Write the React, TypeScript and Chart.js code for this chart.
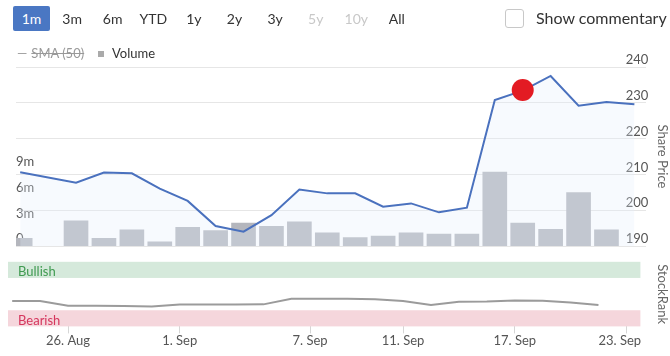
import React, { useEffect, useRef } from 'react';
import { Chart, registerables } from 'chart.js';

Chart.register(...registerables);
Chart.defaults.font.family = 'Lato';

// trading-session index (26 Aug = 0)
const sessions = [-2, -1, 0, 1, 2, 3, 4, 5, 6, 7, 8, 9, 10, 11, 12, 13, 14, 15, 16, 17, 18, 19, 20];
const sharePrice = [210.6, null, 207.7, 210.5, 210.3, 206.0, 202.6, 195.6, 194.0, 198.6, 205.8, 204.7, 204.7, 201.0, 201.9, 199.4, 200.7, 230.8, 233.4, 237.5, 229.2, 230.2, 229.6];
const volumeM = [0.9, null, 2.95, 0.9, 1.9, 0.5, 2.2, 1.8, 2.7, 2.3, 2.85, 1.55, 1.0, 1.15, 1.55, 1.4, 1.4, 8.67, 2.7, 1.95, 6.27, 1.9, null];
const stockRank = [39.4, 39.4, 31.8, 31.8, 31.4, 30.8, 33.8, 33.8, 33.8, 34.1, 42.9, 42.9, 42.7, 42.0, 39.4, 33.3, 38.3, 38.6, 40.2, 39.8, 37.1, 33.3, null];

const newsSession = 16;
const newsPrice = 233.6;

const priceTicks = [190, 200, 210, 220, 230, 240];
const volumeTicks = [0, 3, 6, 9];
const rankTicks = [0];

const tickSessions = [0, 4, 8.67, 12, 16, 20];
const tickLabels = ['26. Aug', '1. Sep', '7. Sep', '11. Sep', '17. Sep', '23. Sep'];

const rangeButtons = ['1m', '3m', '6m', 'YTD', '1y', '2y', '3y', '5y', '10y', 'All'];
const disabledButtons = ['5y', '10y'];
const activeButton = '1m';

const rankBands = [
  { from: 75, to: 100, label: 'Bullish', color: '#d5e9db', text: '#3f9a50' },
  { from: 0, to: 25, label: 'Bearish', color: '#f5d6dc', text: '#d5365d' },
];

const X_MIN = -2.15;
const X_MAX = 20.43;

const bandsPlugin = {
  id: 'rankBands',
  beforeDatasetsDraw(chart: any) {
    const { ctx, chartArea } = chart;
    const y = chart.scales.rank;
    ctx.save();
    rankBands.forEach((b) => {
      const top = y.getPixelForValue(b.to);
      const bottom = y.getPixelForValue(b.from);
      ctx.fillStyle = b.color;
      ctx.fillRect(chartArea.left, top, chartArea.right - chartArea.left + 2, bottom - top);
      ctx.fillStyle = b.text;
      ctx.font = '13px Lato';
      ctx.textBaseline = 'alphabetic';
      ctx.textAlign = 'left';
      ctx.fillText(b.label, chartArea.left + 10, top + 14.5);
    });
    ctx.restore();
  },
};

export default function App() {
  const mainRef = useRef<HTMLCanvasElement>(null);
  const rankRef = useRef<HTMLCanvasElement>(null);

  useEffect(() => {
    document.body.style.margin = '0';
    const tickFont = { family: 'Lato', size: 13 };
    const titleCfg = (text: string) => ({
      display: true,
      text,
      color: '#666',
      font: tickFont,
      padding: { top: 0, bottom: 4 },
    });

    const main = new Chart(mainRef.current!, {
      data: {
        datasets: [
          {
            type: 'scatter',
            data: [{ x: newsSession, y: newsPrice }],
            yAxisID: 'price',
            xAxisID: 'x',
            pointRadius: 11,
            pointHoverRadius: 11,
            backgroundColor: '#e31b23',
            borderWidth: 0,
            order: -1,
          } as any,
          {
            type: 'line',
            data: sessions.map((s, i) => ({ x: s, y: sharePrice[i] })),
            yAxisID: 'price',
            xAxisID: 'x',
            borderColor: '#4a71be',
            borderWidth: 2,
            pointRadius: 0,
            tension: 0,
            spanGaps: true,
            fill: 'start',
            backgroundColor: 'rgba(228,237,251,0.3)',
            order: 0,
          } as any,
          {
            type: 'bar',
            data: sessions.map((s, i) => ({ x: s, y: volumeM[i] })),
            yAxisID: 'vol',
            xAxisID: 'x',
            backgroundColor: '#b4b6bd',
            barThickness: 24,
            order: 1,
          } as any,
        ],
      },
      options: {
        animation: false,
        responsive: false,
        events: [],
        layout: { padding: { top: 67, bottom: 0, left: 8, right: 0 } },
        plugins: { legend: { display: false }, tooltip: { enabled: false } },
        scales: {
          x: { type: 'linear', min: X_MIN, max: X_MAX, display: false, offset: false },
          vol: {
            type: 'linear',
            position: 'left',
            min: 0,
            max: 21,
            afterBuildTicks: (s: any) => {
              s.ticks = volumeTicks.map((v) => ({ value: v }));
            },
            ticks: {
              mirror: true,
              padding: 0,
              labelOffset: -7,
              color: '#555',
              font: tickFont,
              callback: (v: any) => (v === 0 ? '0' : v + 'm'),
            },
            grid: { display: false },
            border: { display: false },
          },
          price: {
            type: 'linear',
            position: 'right',
            min: 190,
            max: 240,
            afterBuildTicks: (s: any) => {
              s.ticks = priceTicks.map((v) => ({ value: v }));
            },
            ticks: { mirror: true, padding: 2, labelOffset: -7, color: '#555', font: tickFont },
            grid: { color: '#e6e6e6', drawTicks: false },
            border: { display: false },
            title: titleCfg('Share Price'),
          },
        },
      } as any,
    });

    const rank = new Chart(rankRef.current!, {
      type: 'line',
      data: {
        datasets: [
          {
            data: sessions.map((s, i) => ({ x: s, y: stockRank[i] })),
            yAxisID: 'rank',
            borderColor: '#9b9b9b',
            borderWidth: 2,
            pointRadius: 0,
            tension: 0,
          },
        ],
      },
      options: {
        animation: false,
        responsive: false,
        events: [],
        layout: { padding: { top: 8, bottom: 0, left: 8, right: 0 } },
        plugins: { legend: { display: false }, tooltip: { enabled: false } },
        scales: {
          x: {
            type: 'linear',
            min: X_MIN,
            max: X_MAX,
            offset: false,
            afterBuildTicks: (s: any) => {
              s.ticks = tickSessions.map((v) => ({ value: v }));
            },
            ticks: {
              padding: 0,
              color: '#555',
              font: tickFont,
              maxRotation: 0,
              autoSkip: false,
              callback: (_v: any, i: number) =>
                i === tickLabels.length - 1 ? tickLabels[i] + '\u00a0\u00a0\u00a0\u00a0' : tickLabels[i],
            },
            grid: { drawOnChartArea: false, drawTicks: true, tickLength: 7, color: '#d6d6d6' },
            border: { display: false },
          },
          rank: {
            type: 'linear',
            position: 'right',
            min: 0,
            max: 100,
            afterBuildTicks: (s: any) => {
              s.ticks = rankTicks.map((v) => ({ value: v }));
            },
            ticks: { mirror: true, padding: 2, labelOffset: -7, color: '#333', font: tickFont },
            grid: { display: false },
            border: { display: false },
            title: titleCfg('StockRank'),
          },
        },
      } as any,
      plugins: [bandsPlugin],
    });

    return () => {
      main.destroy();
      rank.destroy();
    };
  }, []);

  return (
    <div style={{ position: 'relative', width: 670, height: 356, overflow: 'hidden', fontFamily: 'Lato', background: '#fff' }}>
      <canvas ref={mainRef} width={670} height={257} style={{ position: 'absolute', left: 0, top: 0 }} />
      <canvas ref={rankRef} width={670} height={97} style={{ position: 'absolute', left: 0, top: 252 }} />
      {rangeButtons.map((b, i) => {
        const active = b === activeButton;
        const disabled = disabledButtons.includes(b);
        return (
          <div
            key={b}
            style={{
              position: 'absolute',
              left: 31.5 + i * 40.6 - 18.5,
              top: 6,
              width: 37,
              height: 25,
              lineHeight: '25px',
              textAlign: 'center',
              fontSize: 14,
              borderRadius: 2,
              background: active ? '#4a77c3' : 'transparent',
              color: active ? '#fff' : disabled ? '#c8c8c8' : '#333',
            }}
          >
            {b}
          </div>
        );
      })}
      <div
        style={{
          position: 'absolute',
          left: 505,
          top: 9,
          width: 17,
          height: 17,
          border: '1px solid #c8c8c8',
          borderRadius: 3,
          background: '#fff',
        }}
      />
      <div style={{ position: 'absolute', left: 536, top: 7, fontSize: 16, lineHeight: '22px', color: '#333', whiteSpace: 'nowrap' }}>
        Show commentary
      </div>
      <div style={{ position: 'absolute', left: 17, top: 44, fontSize: 13, lineHeight: '18px', color: '#999', whiteSpace: 'nowrap' }}>
        <span>—</span>
        <span style={{ marginLeft: 4, textDecoration: 'line-through' }}>SMA (50)</span>
      </div>
      <div style={{ position: 'absolute', left: 98, top: 51, width: 6, height: 6, background: '#aaa' }} />
      <div style={{ position: 'absolute', left: 112, top: 44, fontSize: 13, lineHeight: '18px', color: '#333', whiteSpace: 'nowrap' }}>
        Volume
      </div>
    </div>
  );
}
